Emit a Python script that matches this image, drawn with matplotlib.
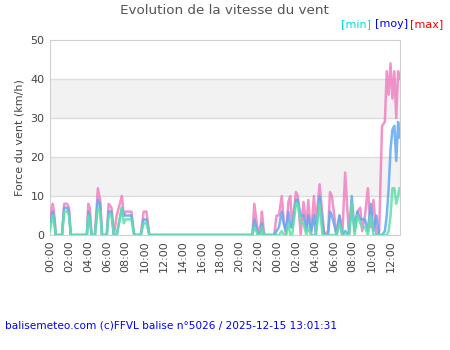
import matplotlib
matplotlib.use("Agg")
import matplotlib.pyplot as plt

# heures depuis 2025-12-14 00:00
heures = [0.0, 0.2, 0.3, 0.5, 0.6, 1.27, 1.5, 1.8, 2.0, 2.2,
          3.9, 4.05, 4.2, 4.4, 4.75, 5.06, 5.3, 5.5, 6.0, 6.2,
          6.5, 6.75, 7.05, 7.6, 7.8, 8.0, 8.3, 8.6, 8.9, 9.0,
          9.6, 9.9, 10.2, 10.5, 21.4, 21.6, 21.8, 22.0, 22.3, 22.4,
          22.6, 22.7, 23.7, 23.95, 24.2, 24.5, 24.7, 24.95, 25.2, 25.4,
          25.6, 26.0, 26.2, 26.5, 26.8, 27.1, 27.3, 27.6, 27.9, 28.1,
          28.5, 28.8, 29.0, 29.4, 29.6, 29.8, 30.3, 30.6, 30.9, 31.2,
          31.6, 31.9, 32.2, 32.5, 32.8, 33.0, 33.3, 33.6, 33.9, 34.2,
          34.5, 34.8, 35.1, 35.4, 35.6, 35.8, 36.0, 36.2, 36.4, 36.6,
          36.8, 36.95]
vmin = [1, 4, 5, 2, 0, 0, 6, 6, 5, 0,
        0, 5, 4, 0, 0, 7, 6, 0, 0, 5,
        5, 0, 0, 7, 3, 4, 4, 4, 0, 0,
        0, 3, 3, 0, 0, 2, 1, 0, 0, 2,
        0, 0, 0, 0, 0, 1, 0, 0, 3, 0,
        0, 8, 8, 3, 3, 0, 2, 0, 0, 0,
        8, 0, 0, 0, 0, 0, 0, 3, 0, 0,
        0, 8, 0, 5, 3, 2, 2, 0, 5, 0,
        0, 0, 0, 0, 0, 1, 5, 12, 12, 8,
        10, 12]
vmoy = [3, 5, 6, 3, 0, 0, 7, 7, 6, 0,
        0, 6, 5, 0, 0, 9, 8, 0, 0, 6,
        6, 0, 0, 7, 5, 5, 5, 5, 0, 0,
        0, 4, 4, 0, 0, 4, 2, 0, 1, 3,
        0, 0, 0, 1, 2, 6, 3, 1, 6, 2,
        2, 9, 9, 5, 5, 1, 5, 1, 5, 0,
        10, 3, 0, 0, 6, 5, 0, 5, 0, 1,
        0, 10, 1, 6, 4, 4, 4, 1, 8, 1,
        5, 0, 0, 1, 5, 12, 22, 27, 28, 19,
        29, 25]
vmax = [3, 7, 8, 4, 0, 0, 8, 8, 7, 0,
        0, 8, 7, 0, 0, 12, 9, 0, 0, 8,
        7, 0, 5, 10, 5, 6, 6, 6, 0, 0,
        0, 6, 6, 0, 0, 8, 4, 0, 3, 6,
        1, 0, 0, 5, 5, 10, 4, 0, 8.5, 10,
        2, 11, 10, 0, 8.5, 2, 9, 0, 10, 3,
        13, 5, 0, 1, 11, 10, 0, 5, 0, 16,
        0, 7, 2, 6, 7, 1, 5, 12, 2, 9,
        0, 1, 28, 29, 42, 36, 44, 35, 42, 30,
        42, 40]

etiquettes = ["00:00", "02:00", "04:00", "06:00", "08:00", "10:00", "12:00",
              "14:00", "16:00", "18:00", "20:00", "22:00", "00:00", "02:00",
              "04:00", "06:00", "08:00", "10:00", "12:00"]

fig = plt.figure(figsize=(4.5, 3.5), dpi=100)
ax = fig.add_axes([50 / 450, 115 / 350, 350 / 450, 195 / 350])

# bandes grises alternees
for y0 in (10, 30):
    ax.axhspan(y0, y0 + 10, color="#f2f2f2", zorder=0, lw=0)
for y in (10, 20, 30, 40):
    ax.axhline(y, color="#dcdcdc", lw=1, zorder=1)

ax.plot(heures, vmax, color="#f080c0", lw=1.8, alpha=0.85, zorder=3)
ax.plot(heures, vmoy, color="#60a8f0", lw=1.8, alpha=0.85, zorder=4)
ax.plot(heures, vmin, color="#60e0a8", lw=1.8, alpha=0.85, zorder=5)

ax.set_xlim(0, 37)
ax.set_ylim(0, 50)
ax.set_yticks([0, 10, 20, 30, 40, 50])
ax.set_xticks(range(0, 37, 2))
ax.set_xticklabels(etiquettes, rotation=90)
ax.tick_params(length=0, labelsize=8, colors="#444444", pad=4)
for s in ax.spines.values():
    s.set_color("#d0d0d0")
ax.set_ylabel("Force du vent (km/h)", fontsize=8, color="#444444")

fig.text(0.498, 0.97, "Evolution de la vitesse du vent", ha="center", va="center",
         fontsize=9.7, color="#555555")
fig.text(341 / 450, 1 - 24 / 350, "[min]", color="#00e0e0", fontsize=8, va="center")
fig.text(375 / 450, 1 - 24 / 350, "[moy]", color="#0000ff", fontsize=8, va="center")
fig.text(410 / 450, 1 - 24 / 350, "[max]", color="#ff0000", fontsize=8, va="center")
fig.text(5 / 450, 1 - 325 / 350, "balisemeteo.com (c)FFVL balise n°5026 / 2025-12-15 13:01:31",
         color="#0000ff", fontsize=7.6, va="center")

fig.savefig("out.png", dpi=100)
